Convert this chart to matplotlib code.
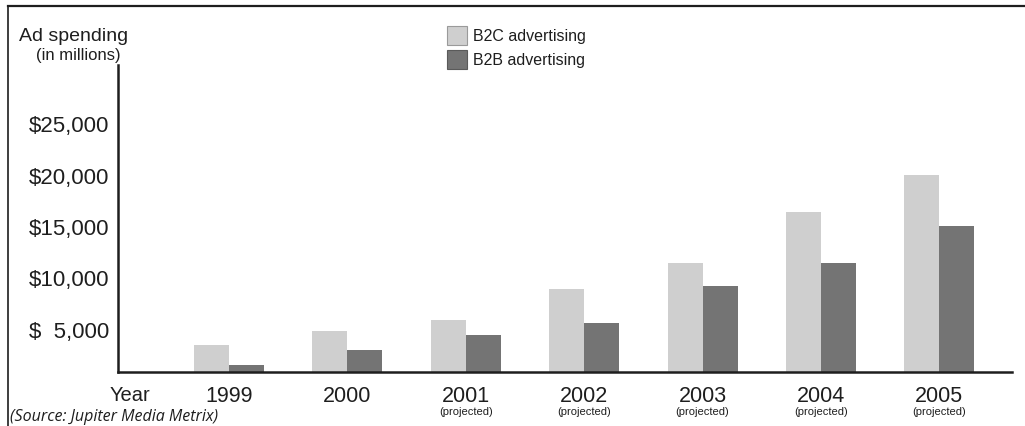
import numpy as np
import matplotlib
matplotlib.use('Agg')
import matplotlib.pyplot as plt
from matplotlib.lines import Line2D
from matplotlib.patches import Rectangle
import matplotlib.transforms as mtransforms

plt.rcParams['font.family'] = ['Liberation Sans', 'DejaVu Sans']

# data (millions of dollars)
years = ['1999', '2000', '2001', '2002', '2003', '2004', '2005']
projected = [False, False, True, True, True, True, True]
b2c = [3400, 4750, 5800, 8900, 11400, 16400, 20000]
b2b = [1500, 2950, 4400, 5600, 9200, 11400, 15000]
series_names = ['B2C advertising', 'B2B advertising']
yticks = [5000, 10000, 15000, 20000, 25000]
ytick_labels = ['$  5,000', '$10,000', '$15,000', '$20,000', '$25,000']

light = '#cfcfcf'
dark = '#747474'
ink = '#1e1e1e'

W, H = 1025, 427
fig = plt.figure(figsize=(W / 100, H / 100), dpi=100)
ax = fig.add_axes([118 / W, 1 - 373 / H, (1012 - 118) / W, (373 - 66) / H])

x = np.arange(len(years))
w = 0.295
ax.bar(x - w / 2, b2c, w, color=light, linewidth=0)
ax.bar(x + w / 2, b2b, w, color=dark, linewidth=0)

ax.set_xlim(-0.9375, 6.613)
ax.set_ylim(780, 30700)

for s in ['top', 'right']:
    ax.spines[s].set_visible(False)
for s in ['left', 'bottom']:
    ax.spines[s].set_linewidth(1.8)
    ax.spines[s].set_color(ink)

ax.set_yticks(yticks)
ax.set_yticklabels(ytick_labels)
ax.tick_params(axis='y', length=0, pad=6.5, labelsize=16, labelcolor=ink)

# "Year" sits on the x tick row, left of 1999
ax.set_xticks([-0.836] + list(x))
ax.set_xticklabels(['Year'] + years)
ax.tick_params(axis='x', length=0, pad=9.5, labelsize=15.5, labelcolor=ink)
ax.get_xticklabels()[0].set_fontsize(14.5)

trans = mtransforms.blended_transform_factory(ax.transData, ax.transAxes)
for i, p in enumerate(projected):
    if p:
        ax.text(x[i], -0.127, '(projected)', transform=trans, ha='center',
                va='center', fontsize=8, color=ink)

# page frame
fig.add_artist(Line2D([8 / W, 8 / W], [0, 1 - 7 / H], transform=fig.transFigure,
                      color=ink, lw=1.2))
fig.add_artist(Line2D([8 / W, 1], [1 - 7 / H, 1 - 7 / H], transform=fig.transFigure,
                      color=ink, lw=1.6))

# axis title
fig.text(19 / W, 1 - 41 / H, 'Ad spending', ha='left', va='baseline',
         fontsize=14, color=ink)
fig.text(121 / W, 1 - 60 / H, '(in millions)', ha='right', va='baseline',
         fontsize=12, color=ink)

# legend
for name, col, edge, ytop in [(series_names[0], light, '#9a9a9a', 27),
                              (series_names[1], dark, '#5a5a5a', 51)]:
    fig.add_artist(Rectangle((447 / W, 1 - (ytop + 19) / H), 20 / W, 19 / H,
                             transform=fig.transFigure, facecolor=col,
                             edgecolor=edge, lw=0.8))
    fig.text(473 / W, 1 - (ytop + 10) / H, name, ha='left', va='center',
             fontsize=11.5, color=ink)

fig.text(10 / W, 1 - 417 / H, '(Source: Jupiter Media Metrix)', ha='left',
         va='center', fontsize=11.5, style='italic', family='Open Sans', color=ink)

fig.savefig('out.png', dpi=100)
